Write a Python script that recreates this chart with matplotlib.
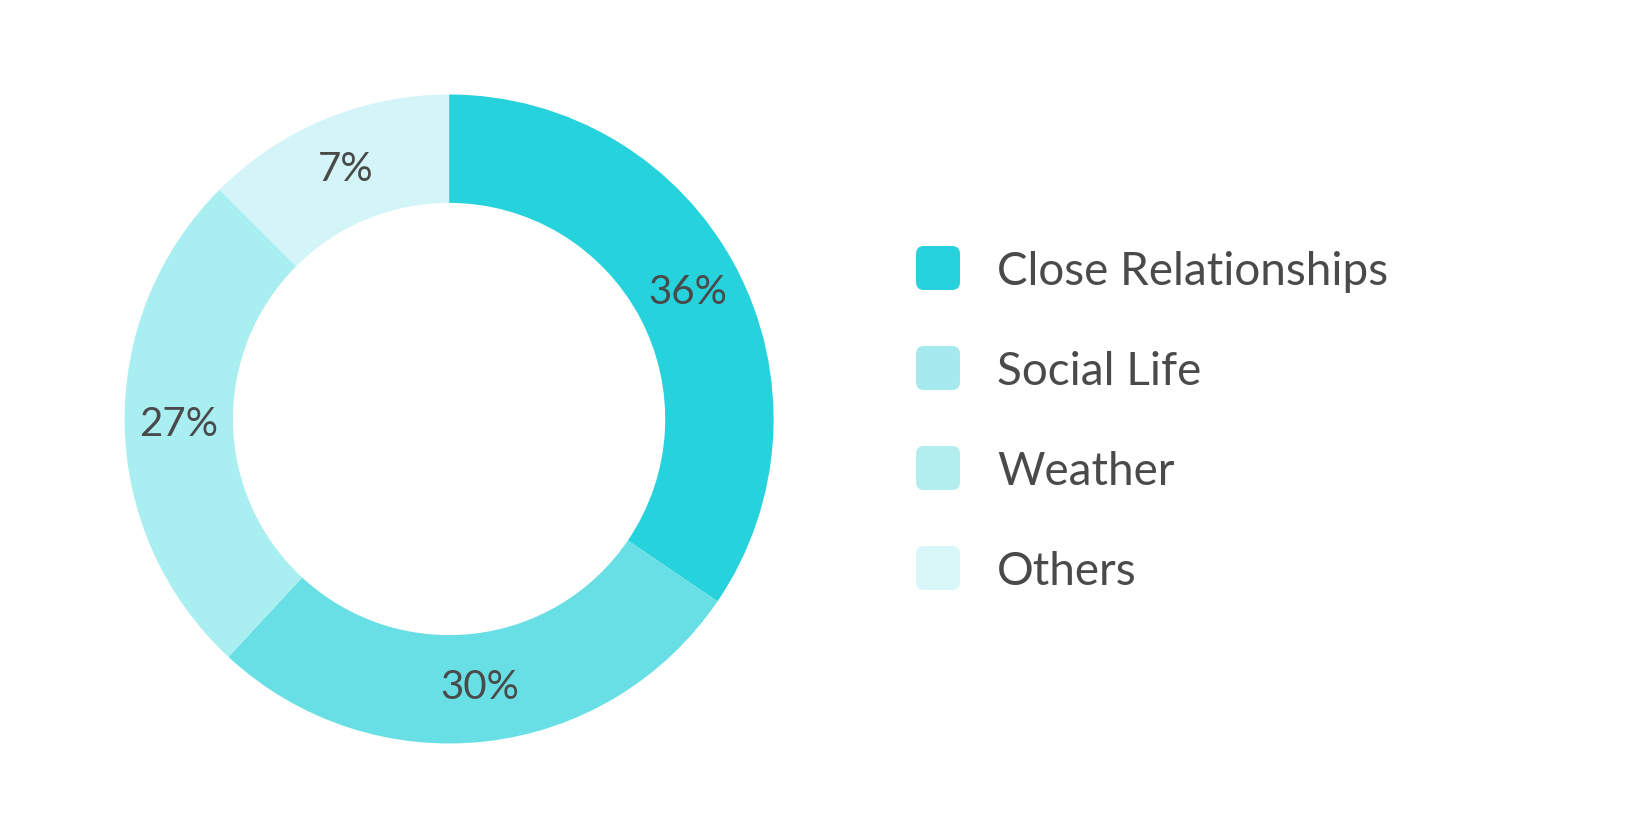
import matplotlib
matplotlib.use('Agg')
import numpy as np
import matplotlib.pyplot as plt
from matplotlib.patches import FancyBboxPatch

categories = ['Close Relationships', 'Social Life', 'Weather', 'Others']
# percentages as printed on the chart
labels = ['36%', '30%', '27%', '7%']
# share of the ring each slice really takes in the picture (small slice is drawn with a minimum angle)
ring_shares = [34.5, 27.4, 25.6, 12.5]
slice_colors = ['#26d2dc', '#68dfe5', '#a9eef0', '#d4f5f7']
legend_colors = ['#26d2dc', '#a6eaed', '#b3eeef', '#d9f6f8']
text_color = '#4a4a4a'

plt.rcParams['font.family'] = ['Lato', 'DejaVu Sans']


def main():
    fig = plt.figure(figsize=(16.52, 8.4), dpi=100)
    fig.patch.set_facecolor('white')

    ax = fig.add_axes([0.0754, 0.1149, 0.3929, 0.7726])
    wedges, _ = ax.pie(ring_shares, colors=slice_colors, startangle=90, counterclock=False,
                       radius=1.0, wedgeprops=dict(width=0.334, linewidth=0))
    ax.set_xlim(-1, 1)
    ax.set_ylim(-1, 1)
    ax.set_aspect('equal')
    ax.axis('off')

    r_mid = 1.0 - 0.334 / 2
    for w, lab in zip(wedges, labels):
        mid = np.deg2rad((w.theta1 + w.theta2) / 2.0)
        ax.text(r_mid * np.cos(mid), r_mid * np.sin(mid), lab,
                ha='center', va='center', fontsize=29, color=text_color)

    # legend drawn by hand, in pixel units
    lax = fig.add_axes([0, 0, 1, 1])
    lax.set_xlim(0, 1652)
    lax.set_ylim(840, 0)
    lax.axis('off')
    for i, (name, col) in enumerate(zip(categories, legend_colors)):
        yc = 268 + i * 100
        box = FancyBboxPatch((916 + 8, yc - 22 + 8), 44 - 16, 44 - 16,
                             boxstyle='round,pad=8', facecolor=col, edgecolor='none')
        lax.add_patch(box)
        lax.text(997, yc, name, ha='left', va='center_baseline', fontsize=33, color=text_color)

    fig.savefig('out.png', dpi=100, facecolor='white')


if __name__ == '__main__':
    main()
